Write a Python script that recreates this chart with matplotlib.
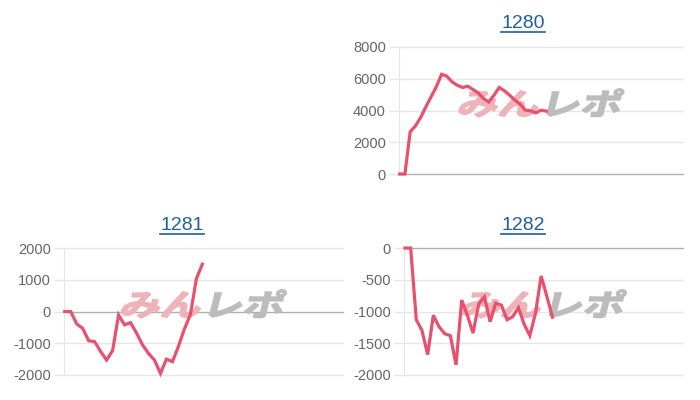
import matplotlib.pyplot as plt
import numpy as np
from matplotlib.textpath import TextPath
from matplotlib.patches import PathPatch
from matplotlib.font_manager import FontProperties
from matplotlib.transforms import Affine2D

plt.rcParams['font.family'] = ['Liberation Sans', 'DejaVu Sans']
plt.rcParams['axes.unicode_minus'] = False

# ─────────────────────────────────────────
# Data (difference per machine)
# ─────────────────────────────────────────
titles = ['1280', '1281', '1282']

diff_1280 = [0, 0, 2660, 3020, 3560, 4230, 4860, 5500, 6280, 6160,
             5800, 5590, 5450, 5530, 5320, 5110, 4750, 4540, 4960, 5450,
             5240, 4960, 4650, 4400, 4020, 3980, 3850, 4020, 3960]

diff_1281 = [0, 0, -390, -530, -920, -950, -1260, -1530, -1230, -110,
             -420, -350, -680, -1050, -1320, -1530, -1950, -1500, -1580, -1100,
             -550, -100, 1030, 1490]

diff_1282 = [0, 0, -1130, -1300, -1680, -1060, -1240, -1350, -1380, -1840,
             -820, -1060, -1340, -880, -770, -1160, -870, -900, -1130, -1080,
             -940, -1200, -1380, -1030, -440, -760, -1090]

y_ranges = [(0, 8000, 2000), (-2000, 2000, 1000), (-2000, 0, 500)]

# ─────────────────────────────────────────
# Style
# ─────────────────────────────────────────
W, H = 700, 400
line_color = '#e8506e'
grid_color = '#e6e6e6'
zero_color = '#b0b0b0'
link_color = '#1f5fa0'

# axes boxes in pixels: left, right, top, bottom ; x range of index axis
boxes = [(399, 683, 47, 174, (-0.13, 54.1)),
         (64, 343, 248, 375, (-0.12, 46.5)),
         (404, 683, 248, 375, (-0.17, 49.0))]
title_pos = [(523, 24), (182, 226), (523, 226)]

# watermark glyph paths ("みん" pink + "レポ" grey), slanted and stretched
wm_font = FontProperties(family='Noto Sans CJK JP', weight='bold')
wm_a = TextPath((0, 0), 'みん', size=30, prop=wm_font)
ext_a = wm_a.get_extents()
wm_b = TextPath((ext_a.x1 + 2, 0), 'レポ', size=30, prop=wm_font)
ext_b = wm_b.get_extents()
wm_x0, wm_x1 = ext_a.x0, ext_b.x1
wm_y0, wm_y1 = min(ext_a.y0, ext_b.y0), max(ext_a.y1, ext_b.y1)


def watermark(ax, l, r, t, b):
    cx = (l + r) / 2
    cy = H - (b - 0.56 * (b - t))
    tr = (Affine2D()
          .translate(-(wm_x0 + wm_x1) / 2, -(wm_y0 + wm_y1) / 2)
          .scale(160 / (wm_x1 - wm_x0), 28 / (wm_y1 - wm_y0))
          .skew_deg(14, 0)
          .translate(cx, cy))
    ax.add_patch(PathPatch(wm_a, transform=tr, fc='#eeb2b9', ec='#eeb2b9',
                           lw=1.2, zorder=2))
    ax.add_patch(PathPatch(wm_b, transform=tr, fc='#bcbcbc', ec='#bcbcbc',
                           lw=1.2, zorder=2))


fig = plt.figure(figsize=(W / 100, H / 100), dpi=100)

series = [diff_1280, diff_1281, diff_1282]
title_texts = []
for data, (l, r, t, b, xl), (lo, hi, step), name, (tx, ty) in zip(
        series, boxes, y_ranges, titles, title_pos):
    ax = fig.add_axes([l / W, (H - b) / H, (r - l) / W, (b - t) / H])
    ax.set_xlim(*xl)
    ax.set_ylim(lo, hi)
    ticks = np.arange(lo, hi + 1, step)
    ax.set_yticks(ticks)
    ax.set_xticks([])
    for v in ticks:
        ax.axhline(v, color=zero_color if v == 0 else grid_color,
                   lw=1, zorder=1, clip_on=False)
    for s in ['top', 'right', 'bottom']:
        ax.spines[s].set_visible(False)
    ax.spines['left'].set_color(grid_color)
    ax.tick_params(axis='y', length=7.5, width=1, color=grid_color,
                   labelsize=10.5, labelcolor='#666666', pad=2)
    for tl, v in zip(ax.yaxis.get_ticklines()[::2], ticks):
        if v == 0:
            tl.set_color(zero_color)

    watermark(ax, l, r, t, b)

    ax.plot(np.arange(len(data)), data, color=line_color, lw=2.3,
            solid_joinstyle='miter', zorder=3, clip_on=False)

    txt = fig.text(tx / W, (H - ty) / H, name, ha='center', va='center',
                   fontsize=14, color=link_color)
    title_texts.append(txt)

# underline the title links
renderer = fig.canvas.get_renderer()
for txt in title_texts:
    bb = txt.get_window_extent(renderer)
    y = bb.y0 + 0.5
    fig.add_artist(plt.Line2D([bb.x0 / W, bb.x1 / W], [y / H, y / H],
                              transform=fig.transFigure, color=link_color, lw=1.2))

fig.savefig('out.png', dpi=100)
